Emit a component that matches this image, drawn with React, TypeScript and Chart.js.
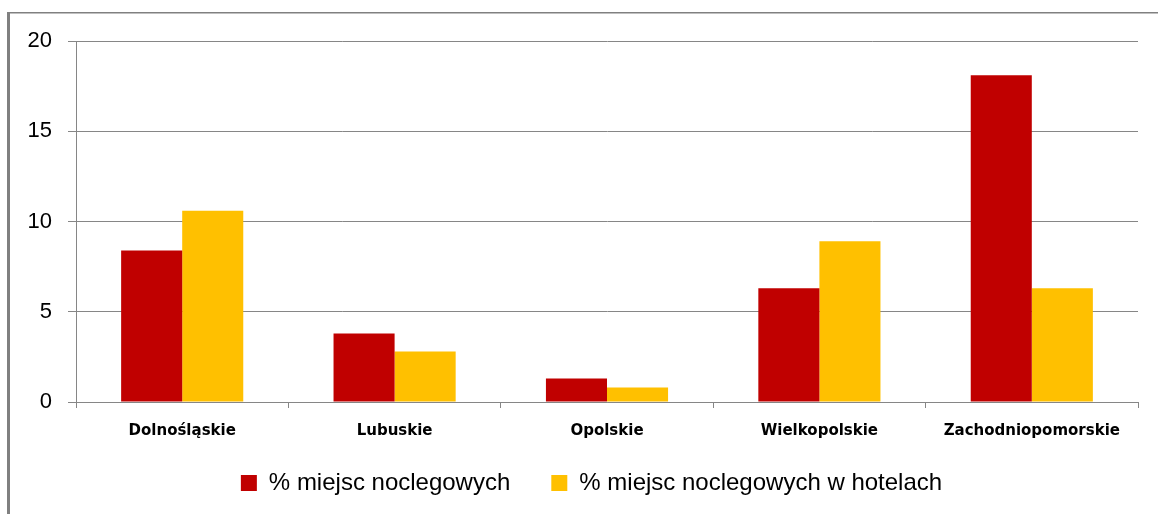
import React, { useEffect, useRef } from "react";
import { Chart, registerables } from "chart.js";

Chart.register(...registerables);

const categories = ["Dolnośląskie", "Lubuskie", "Opolskie", "Wielkopolskie", "Zachodniopomorskie"];
const seriesNames = ["% miejsc noclegowych", "% miejsc noclegowych w hotelach"];
const miejscNoclegowych = [8.4, 3.8, 1.3, 6.3, 18.1];
const miejscHotele = [10.6, 2.8, 0.8, 8.9, 6.3];
const yTicks = [0, 5, 10, 15, 20];

const GRID = "#868686";

const framePlugin = {
  id: "frame",
  afterLayout(chart: any) {
    const lg = chart.legend;
    if (lg) {
      lg.left += 12.5;
      lg.right += 12.5;
      lg.top -= 16;
      lg.bottom -= 16;
    }
  },
  beforeDraw(chart: any) {
    const ctx = chart.ctx;
    ctx.save();
    ctx.fillStyle = "#ffffff";
    ctx.fillRect(0, 0, chart.width, chart.height);
    ctx.fillStyle = "#808080";
    ctx.fillRect(7, 12, 3, chart.height - 12);
    ctx.fillRect(7, 12, chart.width - 7, 1.5);
    ctx.restore();
  },
};

export default function App() {
  const ref = useRef<HTMLCanvasElement>(null);
  useEffect(() => {
    if (!ref.current) return;
    const chart = new Chart(ref.current, {
      type: "bar",
      data: {
        labels: categories,
        datasets: [
          { label: seriesNames[0], data: miejscNoclegowych, backgroundColor: "#C00000" },
          { label: seriesNames[1], data: miejscHotele, backgroundColor: "#FFC000" },
        ],
      },
      options: {
        responsive: false,
        animation: false,
        devicePixelRatio: 1,
        layout: { padding: { left: 20, right: 20, top: 41, bottom: 0 } },
        datasets: { bar: { categoryPercentage: 0.575, barPercentage: 1 } },
        plugins: {
          tooltip: { enabled: false },
          legend: {
            position: "bottom",
            maxHeight: 68,
            labels: {
              boxWidth: 16,
              boxHeight: 16,
              padding: 41,
              color: "#000",
              font: { family: "'Liberation Sans', Arial, sans-serif", size: 24 },
            },
          },
        },
        scales: {
          x: {
            afterFit(scale: any) { scale.height = 44; },
            grid: { offset: true, drawOnChartArea: false, tickLength: 6, color: GRID },
            border: { color: GRID },
            ticks: {
              padding: 14,
              color: "#000",
              maxRotation: 0,
              font: { family: "'DejaVu Sans', sans-serif", size: 15, weight: "bold" },
            },
          },
          y: {
            min: 0,
            max: 20,
            afterFit(scale: any) { scale.width = 56; },
            afterBuildTicks(scale: any) { scale.ticks = yTicks.map((v) => ({ value: v })); },
            grid: { color: GRID, tickLength: 8 },
            border: { color: GRID },
            ticks: {
              padding: 16,
              color: "#000",
              font: { family: "'Liberation Sans', Arial, sans-serif", size: 22 },
            },
          },
        },
      },
      plugins: [framePlugin],
    });
    return () => chart.destroy();
  }, []);
  return (
    <canvas
      ref={ref}
      width={1158}
      height={514}
      style={{ position: "fixed", left: 0, top: 0, width: 1158, height: 514 }}
    />
  );
}
